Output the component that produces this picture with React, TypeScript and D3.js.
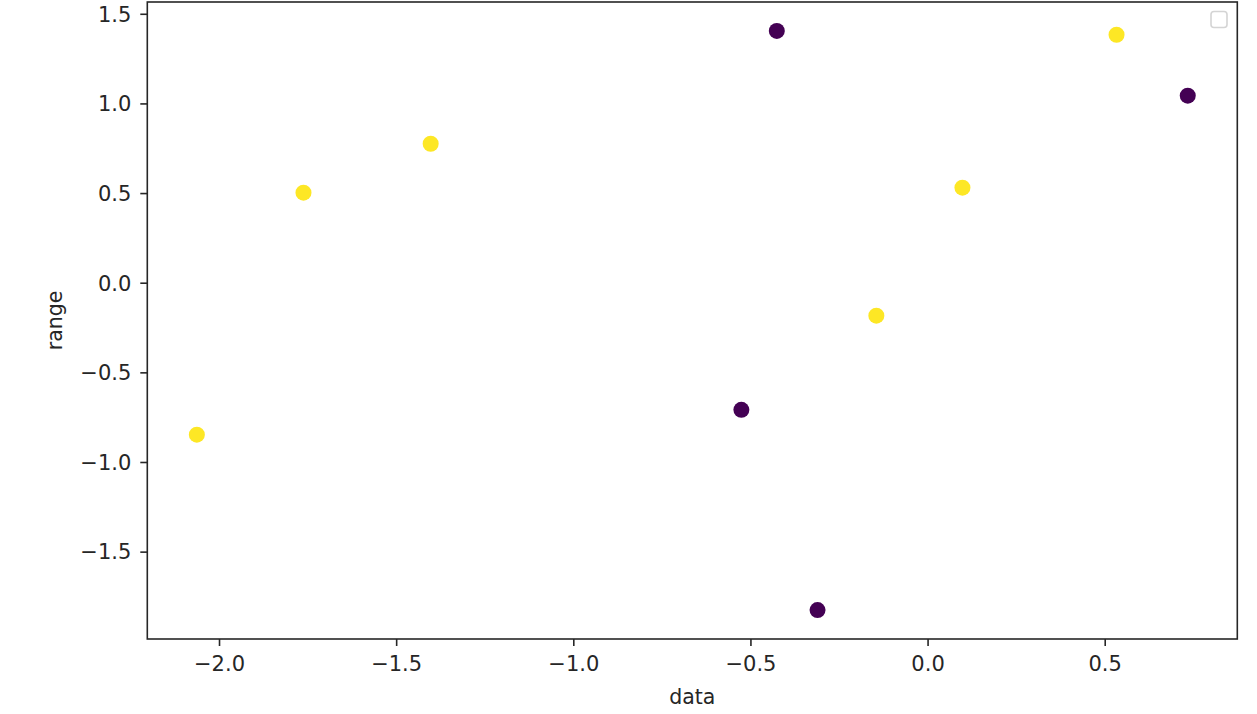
import React from "react";
import * as d3 from "d3";

const xValues = [-2.064, -1.763, -1.404, -0.427, -0.527, -0.312, -0.146, 0.097, 0.532, 0.733];
const yValues = [-0.845, 0.505, 0.778, 1.407, -0.706, -1.823, -0.181, 0.533, 1.386, 1.046];
const classes = [1, 1, 1, 0, 0, 0, 1, 1, 1, 0];
const xTicks = [-2.0, -1.5, -1.0, -0.5, 0.0, 0.5];
const yTicks = [-1.5, -1.0, -0.5, 0.0, 0.5, 1.0, 1.5];
const xLabel = "data";
const yLabel = "range";

const W = 1257;
const H = 714;
const M = { left: 147.3, top: 2, right: 1237.3, bottom: 639 };
const FONT = "'DejaVu Sans', sans-serif";

function pad(ext: [number, number]): [number, number] {
  const r = ext[1] - ext[0];
  return [ext[0] - 0.05 * r, ext[1] + 0.05 * r];
}

const fmt = (v: number) => v.toFixed(1).replace("-", "\u2212");

export default function App() {
  const x = d3.scaleLinear().domain(pad(d3.extent(xValues) as [number, number])).range([M.left, M.right]);
  const y = d3.scaleLinear().domain(pad(d3.extent(yValues) as [number, number])).range([M.bottom, M.top]);
  const color = d3.scaleOrdinal<number, string>().domain([0, 1]).range(["#440154", "#fde725"]);
  const axisColor = "#262626";
  return (
    <svg width={W} height={H} style={{ position: "absolute", left: 0, top: 0, background: "#fff" }}>
      {xValues.map((xv, i) => (
        <circle key={i} cx={x(xv)} cy={y(yValues[i])} r={8} fill={color(classes[i])} />
      ))}
      <rect x={M.left} y={M.top} width={M.right - M.left} height={M.bottom - M.top} fill="none" stroke={axisColor} strokeWidth={1.6} />
      {xTicks.map((t) => (
        <g key={t} transform={`translate(${x(t)},${M.bottom})`}>
          <line y2={7} stroke={axisColor} strokeWidth={1.6} />
          <text y={32} textAnchor="middle" fontFamily={FONT} fontSize={21} fill={axisColor}>{fmt(t)}</text>
        </g>
      ))}
      {yTicks.map((t) => (
        <g key={t} transform={`translate(${M.left},${y(t)})`}>
          <line x2={-7} stroke={axisColor} strokeWidth={1.6} />
          <text x={-16} dy="0.35em" textAnchor="end" fontFamily={FONT} fontSize={21} fill={axisColor}>{fmt(t)}</text>
        </g>
      ))}
      <text x={(M.left + M.right) / 2} y={704} textAnchor="middle" fontFamily={FONT} fontSize={20.5} fill={axisColor}>{xLabel}</text>
      <text transform={`translate(62,${(M.top + M.bottom) / 2}) rotate(-90)`} textAnchor="middle" fontFamily={FONT} fontSize={20.5} fill={axisColor}>{yLabel}</text>
      <rect x={1211} y={11.5} width={16} height={16} rx={3} fill="#fff" stroke="#d4d4d4" strokeWidth={1.6} />
    </svg>
  );
}
